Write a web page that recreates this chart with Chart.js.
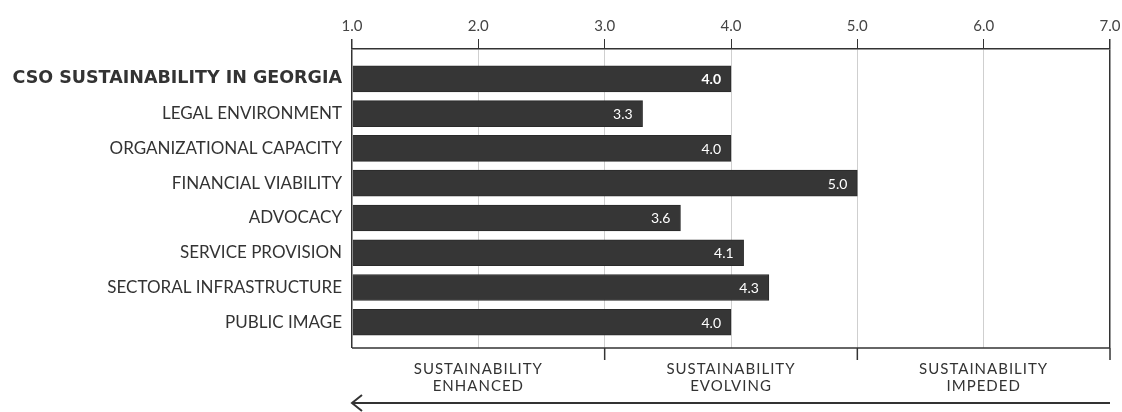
<!DOCTYPE html>
<html>
<head>
<meta charset="utf-8">
<script src="https://cdn.jsdelivr.net/npm/chart.js@4/dist/chart.umd.min.js"></script>
<style>
  html, body { margin: 0; padding: 0; background: #fff; }
  #wrap { width: 1122px; height: 412px; position: relative; }
</style>
</head>
<body>
<div id="wrap"><canvas id="chartCso"></canvas></div>
<script>
// Dữ liệu biểu đồ
const categories = [
  "CSO SUSTAINABILITY IN GEORGIA",
  "LEGAL ENVIRONMENT",
  "ORGANIZATIONAL CAPACITY",
  "FINANCIAL VIABILITY",
  "ADVOCACY",
  "SERVICE PROVISION",
  "SECTORAL INFRASTRUCTURE",
  "PUBLIC IMAGE",
];
const scores = [4.0, 3.3, 4.0, 5.0, 3.6, 4.1, 4.3, 4.0];
const scaleTicks = [1, 2, 3, 4, 5, 6, 7];
const zoneLabels = [
  ["SUSTAINABILITY", "ENHANCED"],
  ["SUSTAINABILITY", "EVOLVING"],
  ["SUSTAINABILITY", "IMPEDED"],
];
const zoneBounds = [1, 3, 5, 7];

const FONT = "Lato, 'Open Sans', sans-serif";
const BOLD_FONT = "'DejaVu Sans', sans-serif";
const INK = "#333333";

// Plugin vẽ số trên thanh
const valueLabels = {
  id: "valueLabels",
  afterDatasetsDraw(chart) {
    const ctx = chart.ctx;
    const meta = chart.getDatasetMeta(0);
    ctx.save();
    ctx.fillStyle = "#ffffff";
    ctx.textAlign = "right";
    ctx.textBaseline = "middle";
    meta.data.forEach((bar, i) => {
      ctx.font = (i === 0 ? "bold 14px " : "14px ") + FONT;
      ctx.fillText(scores[i].toFixed(1), bar.x - 10, bar.y + 1);
    });
    ctx.restore();
  },
};

// Plugin vẽ trục dưới, vùng và mũi tên
const bottomZones = {
  id: "bottomZones",
  afterDraw(chart) {
    const ctx = chart.ctx;
    const x = chart.scales.x;
    const area = chart.chartArea;
    const left = x.getPixelForValue(zoneBounds[0]);
    const right = x.getPixelForValue(zoneBounds[zoneBounds.length - 1]);
    ctx.save();
    ctx.strokeStyle = INK;
    ctx.lineWidth = 1.5;
    // đường đáy
    ctx.beginPath();
    ctx.moveTo(left, area.bottom);
    ctx.lineTo(right, area.bottom);
    ctx.stroke();
    // vạch chia vùng
    zoneBounds.slice(1).forEach((b) => {
      const px = x.getPixelForValue(b);
      ctx.beginPath();
      ctx.moveTo(px, area.bottom);
      ctx.lineTo(px, area.bottom + 12);
      ctx.stroke();
    });
    // nhãn vùng
    ctx.fillStyle = INK;
    ctx.textAlign = "center";
    ctx.textBaseline = "middle";
    ctx.font = "15px " + FONT;
    ctx.letterSpacing = "1px";
    zoneLabels.forEach((lines, i) => {
      const cx = (x.getPixelForValue(zoneBounds[i]) + x.getPixelForValue(zoneBounds[i + 1])) / 2;
      lines.forEach((t, j) => ctx.fillText(t, cx, area.bottom + 21 + j * 17));
    });
    ctx.letterSpacing = "0px";
    // mũi tên
    const ay = area.bottom + 55;
    ctx.lineWidth = 2;
    ctx.beginPath();
    ctx.moveTo(right, ay);
    ctx.lineTo(left, ay);
    ctx.moveTo(left + 10, ay - 8);
    ctx.lineTo(left, ay);
    ctx.lineTo(left + 10, ay + 8);
    ctx.stroke();
    ctx.restore();
  },
};

const ctx = document.getElementById("chartCso").getContext("2d");
const chart = new Chart(ctx, {
  type: "bar",
  data: {
    datasets: [
      {
        data: scores.map((v, i) => ({ x: v, y: i })),
        base: 1,
        backgroundColor: "#363636",
        borderColor: "#2a2a2a",
        borderWidth: 1,
        barThickness: 26,
      },
    ],
  },
  options: {
    indexAxis: "y",
    responsive: true,
    maintainAspectRatio: false,
    animation: false,
    layout: { padding: { top: 13, right: 12, bottom: 64, left: 8 } },
    plugins: { legend: { display: false }, tooltip: { enabled: false } },
    scales: {
      x: {
        type: "linear",
        position: "top",
        min: 1,
        max: 7,
        afterBuildTicks: (scale) => {
          scale.ticks = scaleTicks.map((v) => ({ value: v }));
        },
        afterFit: (scale) => {
          // không để nhãn 7.0 đẩy trục vào trong
          scale.paddingLeft = 0;
          scale.paddingRight = 0;
        },
        ticks: {
          color: "#444",
          font: { family: FONT, size: 15 },
          padding: 4,
          callback: (v) => Number(v).toFixed(1),
        },
        grid: {
          color: (c) => (c.index === 0 || c.index === scaleTicks.length - 1 ? INK : "#cfcfcf"),
          lineWidth: (c) => (c.index === 0 || c.index === scaleTicks.length - 1 ? 1.5 : 1),
          tickColor: INK,
          tickLength: 10,
        },
        border: { color: INK, width: 1.5 },
      },
      y: {
        type: "linear",
        reverse: true,
        offset: false,
        min: -0.86,
        max: 7.74,
        afterBuildTicks: (scale) => {
          scale.ticks = categories.map((_, i) => ({ value: i }));
        },
        afterFit: (scale) => {
          scale.width = 344;
        },
        ticks: {
          color: INK,
          padding: 10,
          font: (c) =>
            c.tick && c.tick.value === 0
              ? { family: BOLD_FONT, size: 17.5, weight: "bold" }
              : { family: FONT, size: 17, weight: "normal" },
          callback: (v) => categories[v],
        },
        grid: { display: false, drawTicks: false },
        border: { display: false },
      },
    },
  },
  plugins: [valueLabels, bottomZones],
});
</script>
</body>
</html>
